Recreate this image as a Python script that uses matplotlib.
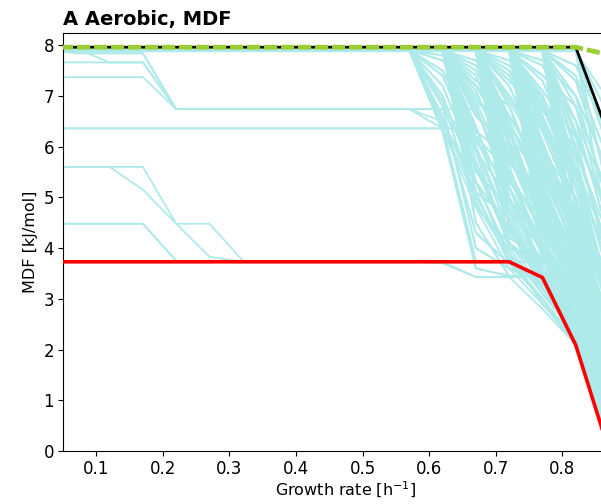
import matplotlib
matplotlib.use("Agg")
import matplotlib.pyplot as plt

# growth-rate grid
X = [0.02, 0.07, 0.12, 0.17, 0.22, 0.27, 0.32, 0.37, 0.42, 0.47, 0.52,
     0.57, 0.62, 0.67, 0.72, 0.77, 0.82, 0.87]

# highlighted series
red_mdf = [3.73, 3.73, 3.73, 3.73, 3.73, 3.73, 3.73, 3.73, 3.73, 3.73, 3.73,
           3.73, 3.73, 3.73, 3.73, 3.42, 2.09, 0.0]
black_mdf = [7.96, 7.96, 7.96, 7.96, 7.96, 7.96, 7.96, 7.96, 7.96, 7.96, 7.96,
             7.96, 7.96, 7.96, 7.96, 7.96, 7.96, 6.2]
green_mdf = [7.96, 7.96, 7.96, 7.96, 7.96, 7.96, 7.96, 7.96, 7.96, 7.96, 7.96,
             7.96, 7.96, 7.96, 7.96, 7.96, 7.96, 7.81]

# individual cyan lines over the full grid
left_lines = [
    [7.88, 7.88, 7.88, 7.88, 7.88, 7.88, 7.88, 7.88, 7.88, 7.88, 7.88, 7.88, 7.88, 7.88, 7.88, 7.88, 7.88, 6.9],
    [7.93, 7.84, 7.84, 7.84, 6.74, 6.74, 6.74, 6.74, 6.74, 6.74, 6.74, 6.74, 6.74, 6.0, 4.5, 3.5, 2.6, 0.8],
    [7.66, 7.66, 7.66, 7.66, 6.74, 6.74, 6.74, 6.74, 6.74, 6.74, 6.74, 6.74, 6.74, 6.74, 5.2, 3.9, 2.9, 1.0],
    [7.37, 7.37, 7.37, 7.37, 6.74, 6.74, 6.74, 6.74, 6.74, 6.74, 6.74, 6.74, 6.36, 4.8, 3.6, 2.9, 2.1, 0.2],
    [7.93, 7.93, 7.66, 7.66, 6.74, 6.74, 6.74, 6.74, 6.74, 6.74, 6.74, 6.74, 6.74, 5.6, 4.1, 3.2, 2.4, 0.6],
    [7.93, 7.84, 7.84, 7.84, 6.74, 6.74, 6.74, 6.74, 6.74, 6.74, 6.74, 6.74, 6.5, 5.3, 3.8, 3.0, 2.2, 0.4],
    [6.36, 6.36, 6.36, 6.36, 6.36, 6.36, 6.36, 6.36, 6.36, 6.36, 6.36, 6.36, 6.36, 5.0, 3.9, 3.1, 2.3, 0.4],
    [6.36, 6.36, 6.36, 6.36, 6.36, 6.36, 6.36, 6.36, 6.36, 6.36, 6.36, 6.36, 6.36, 6.36, 4.9, 3.7, 2.8, 0.9],
    [5.60, 5.60, 5.60, 5.60, 4.48, 4.48, 3.75, 3.73, 3.73, 3.73, 3.73, 3.73, 3.73, 3.43, 3.43, 3.43, 2.2, 0.1],
    [5.60, 5.60, 5.60, 5.15, 4.48, 3.83, 3.73, 3.73, 3.73, 3.73, 3.73, 3.73, 3.73, 3.73, 3.73, 3.73, 3.73, 1.5],
    [4.48, 4.48, 4.48, 4.48, 3.75, 3.73, 3.73, 3.73, 3.73, 3.73, 3.73, 3.73, 3.73, 3.73, 3.73, 3.0, 2.1, 0.2],
    [4.48, 4.48, 4.48, 4.48, 3.75, 3.73, 3.73, 3.73, 3.73, 3.73, 3.73, 3.73, 3.70, 3.43, 3.43, 2.8, 2.1, 0.1],
]

# dense cyan lines: flat at first value up to 0.57, then values at 0.57 ... 0.87
dense_from_057 = [
    [7.9, 6.3, 3.6, 3.45, 3.45, 2.2, 0.1],
    [7.9, 6.4, 3.73, 3.73, 3.73, 3.73, 1.3],
    [7.9, 6.6, 4.3, 3.7, 3.0, 2.1, 0.3],
    [7.9, 6.9, 4.9, 3.8, 3.2, 2.4, 0.6],
    [7.9, 7.2, 5.6, 4.1, 3.4, 2.7, 0.9],
    [7.9, 7.5, 6.2, 4.7, 3.6, 2.9, 1.2],
    [7.9, 7.7, 6.9, 5.4, 4.0, 3.2, 1.6],
    [7.9, 7.0, 5.3, 3.9, 2.9, 2.2, 0.4],
    [7.9, 6.5, 5.1, 4.6, 3.5, 2.5, 0.7],
    [7.9, 7.8, 7.2, 6.1, 4.5, 3.4, 2.0],
    [7.9, 6.8, 4.0, 3.6, 3.3, 2.3, 0.5],
    [7.9, 7.4, 5.9, 5.0, 3.9, 2.8, 1.0],
]
dense_from_062 = [
    [7.9, 7.9, 5.9, 4.0, 3.1, 2.3, 0.5],
    [7.9, 7.9, 6.4, 4.5, 3.3, 2.5, 0.8],
    [7.9, 7.9, 6.8, 5.0, 3.6, 2.7, 1.0],
    [7.9, 7.9, 7.1, 5.6, 3.9, 3.0, 1.3],
    [7.9, 7.9, 7.5, 6.3, 4.4, 3.3, 1.7],
    [7.9, 7.9, 5.1, 3.7, 3.0, 2.1, 0.3],
    [7.9, 7.9, 4.5, 3.45, 3.45, 2.3, 0.4],
    [7.9, 7.9, 6.1, 5.2, 4.0, 2.9, 1.1],
    [7.9, 7.9, 7.3, 6.8, 5.2, 3.8, 2.1],
    [7.9, 7.9, 6.6, 6.0, 4.8, 3.5, 1.8],
    [7.9, 7.9, 5.5, 4.8, 3.73, 3.73, 2.4],
    [7.9, 7.9, 7.7, 7.0, 5.9, 4.3, 2.6],
    [7.9, 7.9, 6.0, 4.3, 3.5, 2.6, 0.9],
    [7.9, 7.9, 7.0, 5.9, 4.6, 3.4, 1.5],
    [7.9, 7.9, 5.3, 4.4, 3.4, 2.4, 0.6],
    [7.9, 7.9, 6.9, 6.4, 5.5, 4.0, 2.3],
    [7.9, 7.9, 6.2, 5.5, 4.3, 3.2, 1.2],
    [7.9, 7.9, 7.2, 6.5, 5.0, 3.6, 1.6],
    [7.9, 7.9, 5.7, 4.2, 3.8, 2.7, 0.8],
    [7.9, 7.9, 6.7, 5.4, 4.1, 3.0, 1.0],
    [7.9, 7.9, 7.4, 5.8, 4.5, 3.3, 1.4],
    [7.9, 7.9, 4.8, 4.1, 3.6, 2.5, 0.5],
    [7.9, 7.9, 6.3, 5.8, 4.7, 3.4, 1.5],
    [7.9, 7.9, 7.6, 6.6, 5.5, 4.0, 2.1],
]
dense_from_067 = [
    [7.9, 7.9, 7.9, 5.6, 3.8, 2.9, 0.9],
    [7.9, 7.9, 7.9, 6.0, 4.1, 3.1, 1.2],
    [7.9, 7.9, 7.9, 6.4, 4.6, 3.4, 1.5],
    [7.9, 7.9, 7.9, 6.8, 5.1, 3.7, 1.9],
    [7.9, 7.9, 7.9, 7.2, 5.7, 4.1, 2.3],
    [7.9, 7.9, 7.9, 5.0, 3.5, 2.4, 0.5],
    [7.9, 7.9, 7.9, 4.4, 3.2, 2.2, 0.3],
    [7.9, 7.9, 7.9, 7.5, 6.3, 4.7, 2.8],
    [7.9, 7.9, 7.9, 6.2, 5.4, 4.0, 2.0],
    [7.9, 7.9, 7.9, 5.3, 4.6, 3.3, 1.4],
    [7.9, 7.9, 7.9, 7.0, 6.0, 4.4, 2.5],
    [7.9, 7.9, 7.9, 4.0, 3.73, 3.73, 1.0],
    [7.9, 7.9, 7.9, 5.8, 4.3, 2.6, 0.7],
    [7.9, 7.9, 7.9, 7.7, 6.8, 5.2, 3.2],
    [7.9, 7.9, 7.9, 6.6, 5.6, 3.9, 1.7],
    [7.9, 7.9, 7.9, 4.7, 4.0, 2.8, 0.8],
    [7.9, 7.9, 7.9, 7.3, 6.6, 4.9, 2.9],
    [7.9, 7.9, 7.9, 5.4, 3.9, 3.0, 1.1],
    [7.9, 7.9, 7.9, 6.1, 4.9, 3.5, 1.6],
    [7.9, 7.9, 7.9, 6.9, 5.8, 4.2, 2.2],
    [7.9, 7.9, 7.9, 5.7, 4.8, 3.6, 1.8],
    [7.9, 7.9, 7.9, 4.9, 4.2, 3.1, 1.3],
    [7.9, 7.9, 7.9, 7.4, 6.1, 4.5, 2.6],
    [7.9, 7.9, 7.9, 6.5, 5.2, 3.8, 1.9],
    [7.9, 7.9, 7.9, 5.2, 3.6, 2.7, 0.6],
    [7.9, 7.9, 7.9, 7.6, 7.0, 5.6, 3.5],
    [7.9, 7.9, 7.9, 4.5, 3.45, 2.5, 0.5],
    [7.9, 7.9, 7.9, 6.3, 4.4, 3.2, 1.0],
]
dense_from_072 = [
    [7.9, 7.9, 7.9, 7.9, 5.7, 3.8, 1.5],
    [7.9, 7.9, 7.9, 7.9, 6.1, 4.2, 1.9],
    [7.9, 7.9, 7.9, 7.9, 6.5, 4.7, 2.3],
    [7.9, 7.9, 7.9, 7.9, 6.9, 5.2, 2.8],
    [7.9, 7.9, 7.9, 7.9, 7.3, 5.8, 3.4],
    [7.9, 7.9, 7.9, 7.9, 5.2, 3.4, 1.1],
    [7.9, 7.9, 7.9, 7.9, 4.6, 3.0, 0.7],
    [7.9, 7.9, 7.9, 7.9, 4.0, 2.6, 0.4],
    [7.9, 7.9, 7.9, 7.9, 7.6, 6.5, 4.2],
    [7.9, 7.9, 7.9, 7.9, 5.9, 5.0, 3.0],
    [7.9, 7.9, 7.9, 7.9, 6.7, 6.0, 3.8],
    [7.9, 7.9, 7.9, 7.9, 5.4, 4.4, 2.2],
    [7.9, 7.9, 7.9, 7.9, 6.3, 5.5, 3.6],
    [7.9, 7.9, 7.9, 7.9, 4.3, 3.6, 1.6],
    [7.9, 7.9, 7.9, 7.9, 7.1, 6.2, 4.6],
    [7.9, 7.9, 7.9, 7.9, 5.0, 4.0, 2.0],
    [7.9, 7.9, 7.9, 7.9, 6.0, 4.6, 2.5],
    [7.9, 7.9, 7.9, 7.9, 6.6, 5.2, 3.2],
    [7.9, 7.9, 7.9, 7.9, 7.0, 5.4, 3.0],
    [7.9, 7.9, 7.9, 7.9, 5.6, 4.2, 2.4],
    [7.9, 7.9, 7.9, 7.9, 7.4, 6.8, 5.0],
    [7.9, 7.9, 7.9, 7.9, 4.8, 3.3, 1.3],
    [7.9, 7.9, 7.9, 7.9, 6.4, 4.9, 2.7],
    [7.9, 7.9, 7.9, 7.9, 5.3, 3.8, 1.8],
    [7.9, 7.9, 7.9, 7.9, 7.7, 7.0, 5.5],
    [7.9, 7.9, 7.9, 7.9, 6.8, 5.6, 4.0],
]
dense_from_077 = [
    [7.9, 7.9, 7.9, 7.9, 7.9, 6.2, 3.6],
    [7.9, 7.9, 7.9, 7.9, 7.9, 5.5, 2.9],
    [7.9, 7.9, 7.9, 7.9, 7.9, 4.8, 2.2],
    [7.9, 7.9, 7.9, 7.9, 7.9, 6.8, 4.4],
    [7.9, 7.9, 7.9, 7.9, 7.9, 4.1, 1.4],
    [7.9, 7.9, 7.9, 7.9, 7.9, 7.3, 5.3],
    [7.9, 7.9, 7.9, 7.9, 7.9, 5.9, 4.2],
    [7.9, 7.9, 7.9, 7.9, 7.9, 3.5, 0.9],
    [7.9, 7.9, 7.9, 7.9, 7.9, 6.5, 5.0],
    [7.9, 7.9, 7.9, 7.9, 7.9, 7.6, 6.2],
    [7.9, 7.9, 7.9, 7.9, 7.9, 5.2, 3.3],
    [7.9, 7.9, 7.9, 7.9, 7.9, 4.4, 2.6],
    [7.9, 7.9, 7.9, 7.9, 7.9, 6.0, 3.9],
    [7.9, 7.9, 7.9, 7.9, 7.9, 5.6, 3.1],
    [7.9, 7.9, 7.9, 7.9, 7.9, 7.0, 4.8],
    [7.9, 7.9, 7.9, 7.9, 7.9, 4.9, 2.4],
    [7.9, 7.9, 7.9, 7.9, 7.9, 6.3, 4.6],
    [7.9, 7.9, 7.9, 7.9, 7.9, 3.9, 1.8],
    [7.9, 7.9, 7.9, 7.9, 7.9, 7.4, 5.7],
    [7.9, 7.9, 7.9, 7.9, 7.9, 5.4, 3.8],
]
dense_from_082 = [
    [7.9, 7.9, 7.9, 7.9, 7.9, 7.9, 5.9],
    [7.9, 7.9, 7.9, 7.9, 7.9, 7.9, 5.0],
    [7.9, 7.9, 7.9, 7.9, 7.9, 7.9, 4.1],
    [7.9, 7.9, 7.9, 7.9, 7.9, 7.9, 6.6],
]

xticks = [0.1, 0.2, 0.3, 0.4, 0.5, 0.6, 0.7, 0.8]
yticks = [0, 1, 2, 3, 4, 5, 6, 7, 8]

fig = plt.figure(figsize=(6.01, 5.04), dpi=100)
ax = fig.add_axes([63 / 601, 53 / 504, 566 / 601, 418 / 504])

cyan = "#afeaea"
for ys in left_lines:
    ax.plot(X, ys, color=cyan, lw=1.3, zorder=1)
n_prefix = X.index(0.57)
for group in (dense_from_057, dense_from_062, dense_from_067,
              dense_from_072, dense_from_077, dense_from_082):
    for tail in group:
        ys = [tail[0]] * n_prefix + tail
        ax.plot(X, ys, color=cyan, lw=1.6, zorder=1)

ax.plot(X, red_mdf, color="red", lw=2.6, zorder=3)
ax.plot(X, black_mdf, color="black", lw=2.0, zorder=4)
ax.plot(X, green_mdf, color="yellowgreen", lw=3.4, dashes=(2.8, 0.8), zorder=5)

ax.set_xlim(0.05, 0.90)
ax.set_ylim(0, 8.24)
ax.set_xticks(xticks)
ax.set_yticks(yticks)
ax.tick_params(labelsize=12, pad=3)
ax.set_xlabel("Growth rate [h$^{-1}$]", fontsize=11.5, labelpad=1)
ax.set_ylabel("MDF [kJ/mol]", fontsize=11.5)
ax.set_title("A Aerobic, MDF", loc="left", fontweight="bold", fontsize=14)

fig.savefig("out.png", dpi=100)
